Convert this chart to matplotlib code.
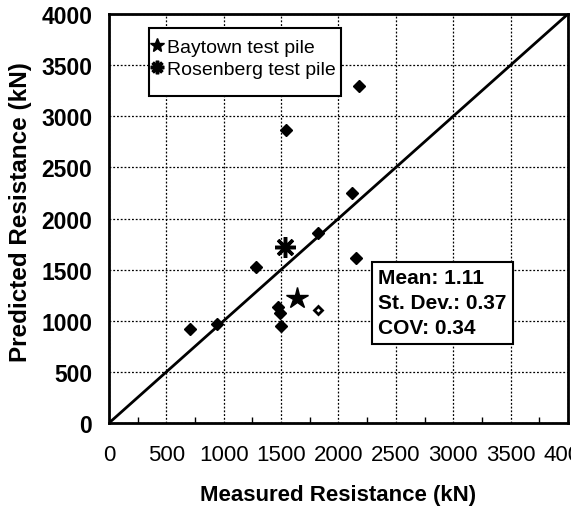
import numpy as np
import matplotlib.pyplot as plt
from matplotlib.patches import Rectangle
from matplotlib.ticker import MultipleLocator

# measured vs predicted resistance (kN)
measured = [2180, 1540, 2120, 1820, 2150, 1280, 1470, 1490, 1495, 710, 945]
predicted = [3300, 2870, 2250, 1860, 1610, 1530, 1130, 1080, 950, 920, 970]
odd_measured = [1825]
odd_predicted = [1105]
baytown = (1640, 1220)
rosenberg = (1535, 1720)
ticks = [0, 500, 1000, 1500, 2000, 2500, 3000, 3500, 4000]
stats = ["Mean: 1.11", "St. Dev.: 0.37", "COV: 0.34"]

plt.rcParams["font.family"] = ["Liberation Sans", "DejaVu Sans"]

fig = plt.figure(figsize=(5.71, 5.10), dpi=100)
ax = fig.add_axes([0.1909, 0.1686, 0.8038, 0.802])

ax.plot([0, 4000], [0, 4000], color="black", lw=2, zorder=2)
ax.plot(measured, predicted, "D", color="black", ms=6.5, ls="none", zorder=3)
ax.plot(odd_measured, odd_predicted, "D", mfc="white", mec="black", mew=2,
        ms=4.5, ls="none", zorder=3)
ax.plot([baytown[0]], [baytown[1]], "*", color="black", ms=16, ls="none",
        zorder=4, label="Baytown test pile")
ax.plot([rosenberg[0]], [rosenberg[1]], marker=(8, 2, 0), color="black",
        ms=15, mew=2.5, ls="none", zorder=4, label="Rosenberg test pile")

ax.set_xlim(0, 4000)
ax.set_ylim(0, 4000)
ax.set_xticks(ticks)
ax.set_yticks(ticks)
ax.set_xticklabels([str(t) for t in ticks], fontsize=16)
ax.set_yticklabels([str(t) for t in ticks], fontsize=16.5, fontweight="bold")
ax.xaxis.set_minor_locator(MultipleLocator(250))
ax.tick_params(which="major", length=0)
ax.tick_params(axis="x", which="major", pad=15)
ax.tick_params(axis="y", which="major", pad=12)
ax.tick_params(axis="x", which="minor", direction="in", length=4, width=1)
ax.tick_params(axis="y", which="minor", length=0)
ax.grid(True, which="major", ls=(0, (1.5, 1.5)), color="black", lw=0.9)
for s in ax.spines.values():
    s.set_linewidth(2)

ax.set_xlabel("Measured Resistance (kN)", fontsize=16, fontweight="bold",
              labelpad=14)
ax.set_ylabel("Predicted Resistance (kN)", fontsize=17.5, fontweight="bold",
              labelpad=6)
ax.yaxis.set_label_coords(-0.168, 0.518)

# legend box drawn separately (it has extra room at the bottom)
ax.add_patch(Rectangle((0.0871, 0.7995), 0.4183, 0.1663, transform=ax.transAxes,
                       fc="white", ec="black", lw=1.5, zorder=5))
leg = ax.legend(loc="upper left", bbox_to_anchor=(0.095, 0.94),
                borderaxespad=0, fontsize=14, handlelength=0.5,
                handletextpad=0.25, labelspacing=0.22, borderpad=0.0,
                markerscale=0.65, frameon=False)
leg.set_zorder(6)

ax.text(0.587, 0.378, "\n".join(stats), transform=ax.transAxes,
        fontsize=15, fontweight="bold", va="top", ha="left", linespacing=1.4,
        bbox=dict(boxstyle="square,pad=0.3", fc="white", ec="black", lw=1.5),
        zorder=5)

plt.savefig("out.png", dpi=100)
plt.clf()
